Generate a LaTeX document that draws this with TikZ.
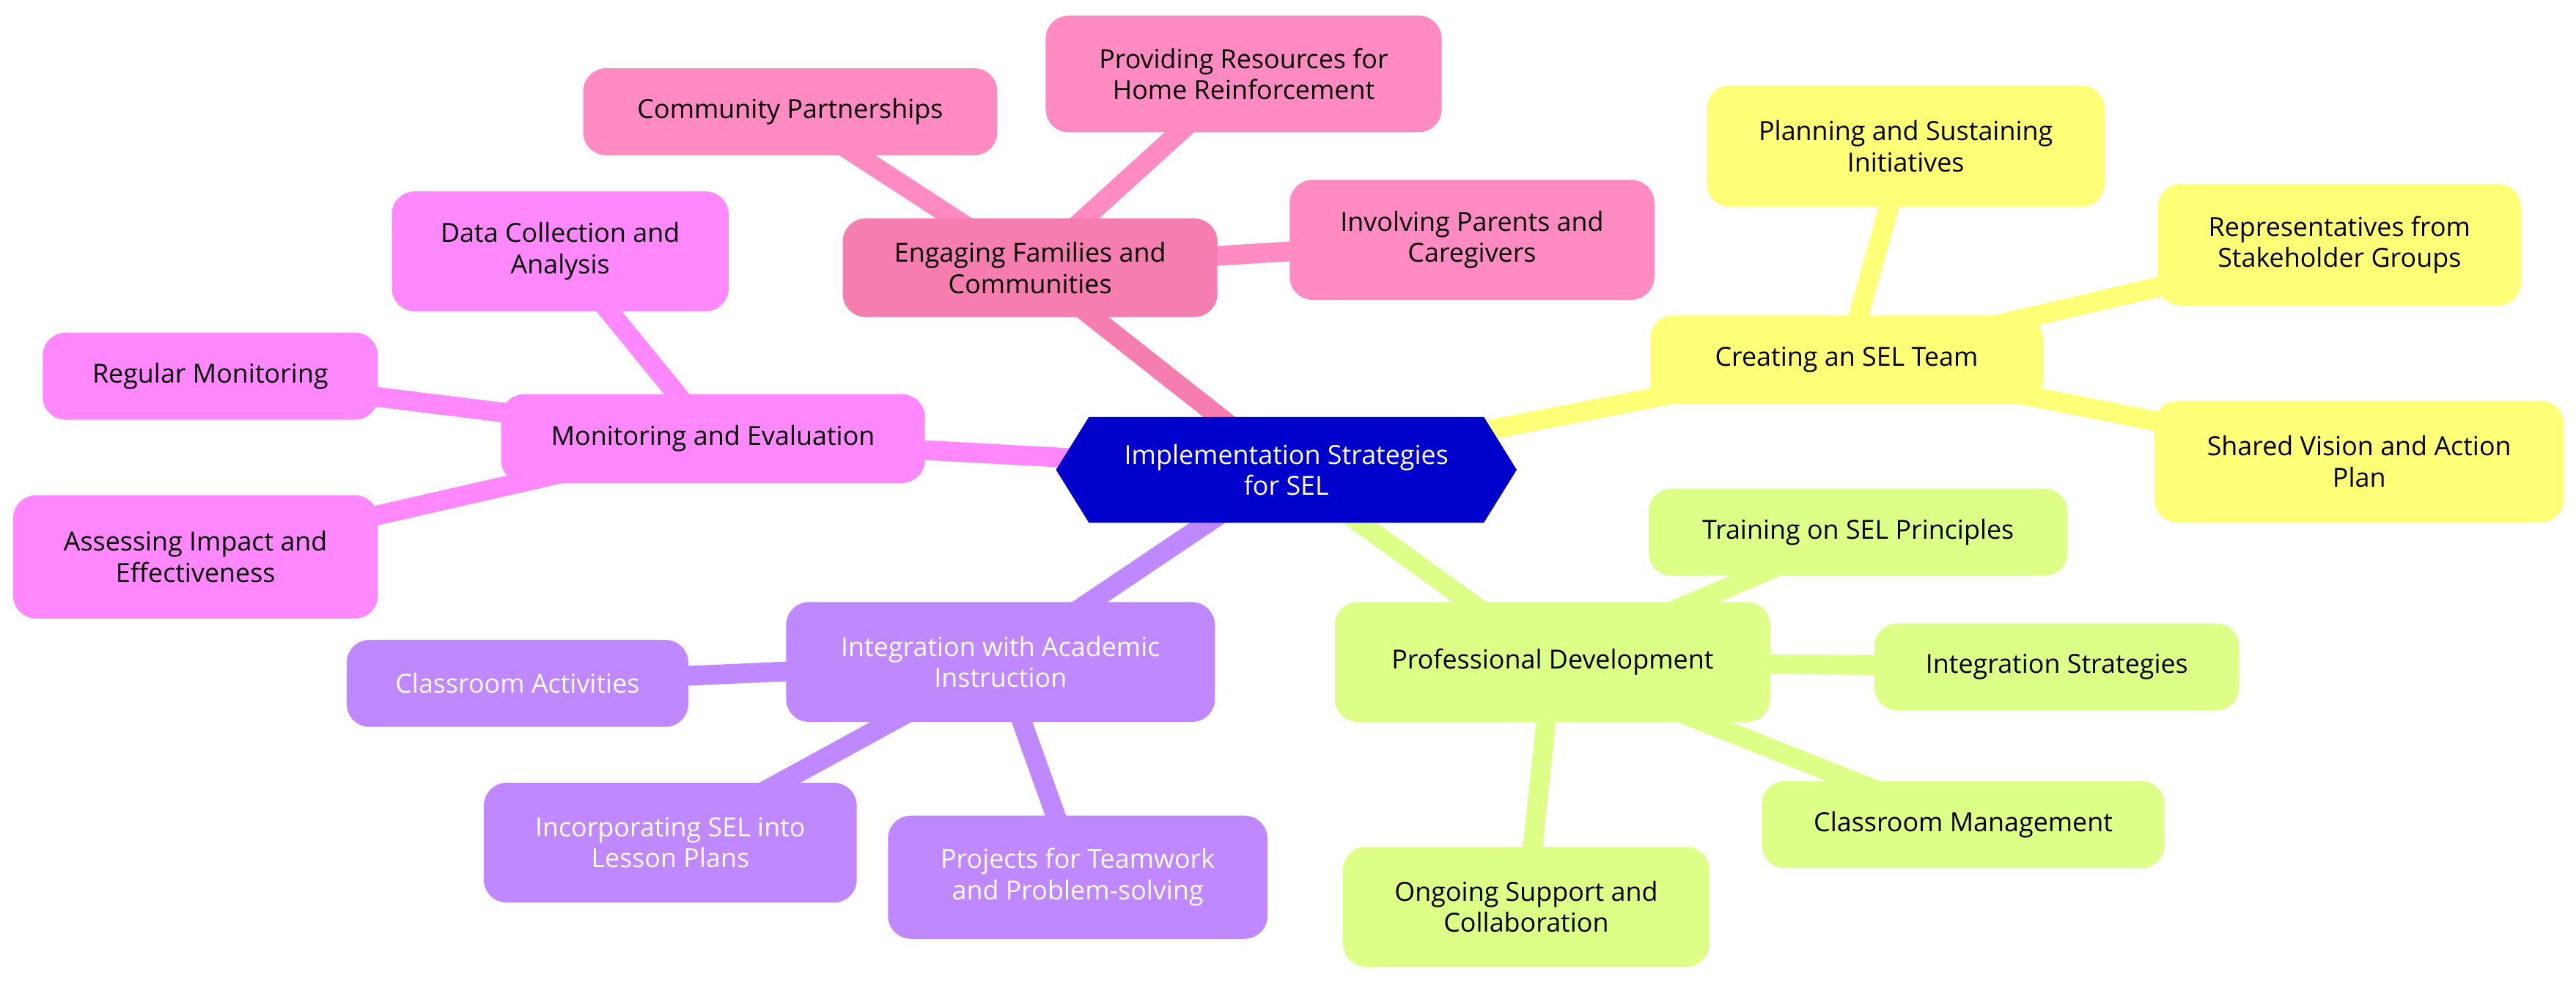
\documentclass[tikz,border=0pt]{standalone}
\usepackage{fontspec}
\setmainfont{Open Sans}
\usetikzlibrary{backgrounds}
\begin{document}
\begin{tikzpicture}[x=1pt,y=-1pt,
  box/.style={rounded corners=14pt,align=center,inner sep=2pt,font=\fontsize{16}{19}\selectfont},
  bx/.style n args={4}{box,minimum width=#3-#1,minimum height=#4-#2},
  ln/.style={line width=12pt}]
\definecolor{pk}{HTML}{FF8BC2}\definecolor{pkd}{HTML}{F57DB0}
\definecolor{mg}{HTML}{FF88FF}\definecolor{yl}{HTML}{FFFF77}
\definecolor{gr}{HTML}{DDFF88}\definecolor{pu}{HTML}{C088FF}
\definecolor{bl}{HTML}{0000CC}
\useasboundingbox (0,0) rectangle (1568,603);
\node[box,text=white,minimum width=280,minimum height=64] (c) at (783,286) {Implementation Strategies\\for SEL};
\node[bx={513}{133}{741}{193},fill=pkd] (ef) at (627,163) {Engaging Families and\\Communities};
\node[bx={355}{42}{607}{95},fill=pk] (cp) at (481,68) {Community Partnerships};
\node[bx={637}{10}{878}{81},fill=pk] (pr) at (757,45) {Providing Resources for\\Home Reinforcement};
\node[bx={785}{110}{1007}{183},fill=pk] (ip) at (896,146) {Involving Parents and\\Caregivers};
\node[bx={305}{240}{563}{294},fill=mg] (me) at (434,267) {Monitoring and Evaluation};
\node[bx={239}{117}{444}{190},fill=mg] (dc) at (341,153) {Data Collection and\\Analysis};
\node[bx={26}{203}{230}{256},fill=mg] (rm) at (128,229) {Regular Monitoring};
\node[bx={8}{302}{230}{377},fill=mg] (ai) at (119,339) {Assessing Impact and\\Effectiveness};
\node[bx={1006}{191}{1245}{245},fill=yl] (st) at (1124,219) {Creating an SEL Team};
\node[bx={1040}{53}{1282}{127},fill=yl] (ps) at (1160,89) {Planning and Sustaining\\Initiatives};
\node[bx={1315}{113}{1536}{187},fill=yl] (rs) at (1424,149) {Representatives from\\Stakeholder Groups};
\node[bx={1312}{244}{1561}{318},fill=yl] (sv) at (1436,281) {Shared Vision and Action\\Plan};
\node[bx={811}{377}{1076}{450},fill=gr] (pd) at (945,403) {Professional Development};
\node[bx={1005}{298}{1260}{351},fill=gr] (tr) at (1131,324) {Training on SEL Principles};
\node[bx={1143}{380}{1365}{433},fill=gr] (is) at (1252,406) {Integration Strategies};
\node[bx={1073}{477}{1318}{530},fill=gr] (cm) at (1195,502) {Classroom Management};
\node[bx={817}{516}{1040}{589},fill=gr] (os) at (929,552) {Ongoing Support and\\Collaboration};
\node[bx={479}{367}{740}{440},fill=pu,text=white] (ia) at (609,403) {Integration with Academic\\Instruction};
\node[bx={212}{390}{420}{443},fill=pu,text=white] (ca) at (315,416) {Classroom Activities};
\node[bx={294}{477}{521}{550},fill=pu,text=white] (il) at (408,513) {Incorporating SEL into\\Lesson Plans};
\node[bx={553}{497}{784}{572},fill=pu,text=white] (pt) at (656,534) {Projects for Teamwork\\and Problem-solving};
\begin{scope}[on background layer]
\draw[ln,pkd] (c.center) -- (ef.center);
\draw[ln,pk] (ef.center) -- (cp.center) (ef.center) -- (pr.center) (ef.center) -- (ip.center);
\draw[ln,mg] (c.center) -- (me.center);
\draw[ln,mg] (me.center) -- (dc.center) (me.center) -- (rm.center) (me.center) -- (ai.center);
\draw[ln,yl] (c.center) -- (st.center);
\draw[ln,yl] (st.center) -- (ps.center) (st.center) -- (rs.center) (st.center) -- (sv.center);
\draw[ln,gr] (c.center) -- (pd.center);
\draw[ln,gr] (pd.center) -- (tr.center) (pd.center) -- (is.center) (pd.center) -- (cm.center) (pd.center) -- (os.center);
\draw[ln,pu] (c.center) -- (ia.center);
\draw[ln,pu] (ia.center) -- (ca.center) (ia.center) -- (il.center) (ia.center) -- (pt.center);
\fill[bl] (c.west) -- ([xshift=20pt]c.north west) -- ([xshift=-20pt]c.north east) -- (c.east) -- ([xshift=-20pt]c.south east) -- ([xshift=20pt]c.south west) -- cycle;
\end{scope}
\end{tikzpicture}
\end{document}
